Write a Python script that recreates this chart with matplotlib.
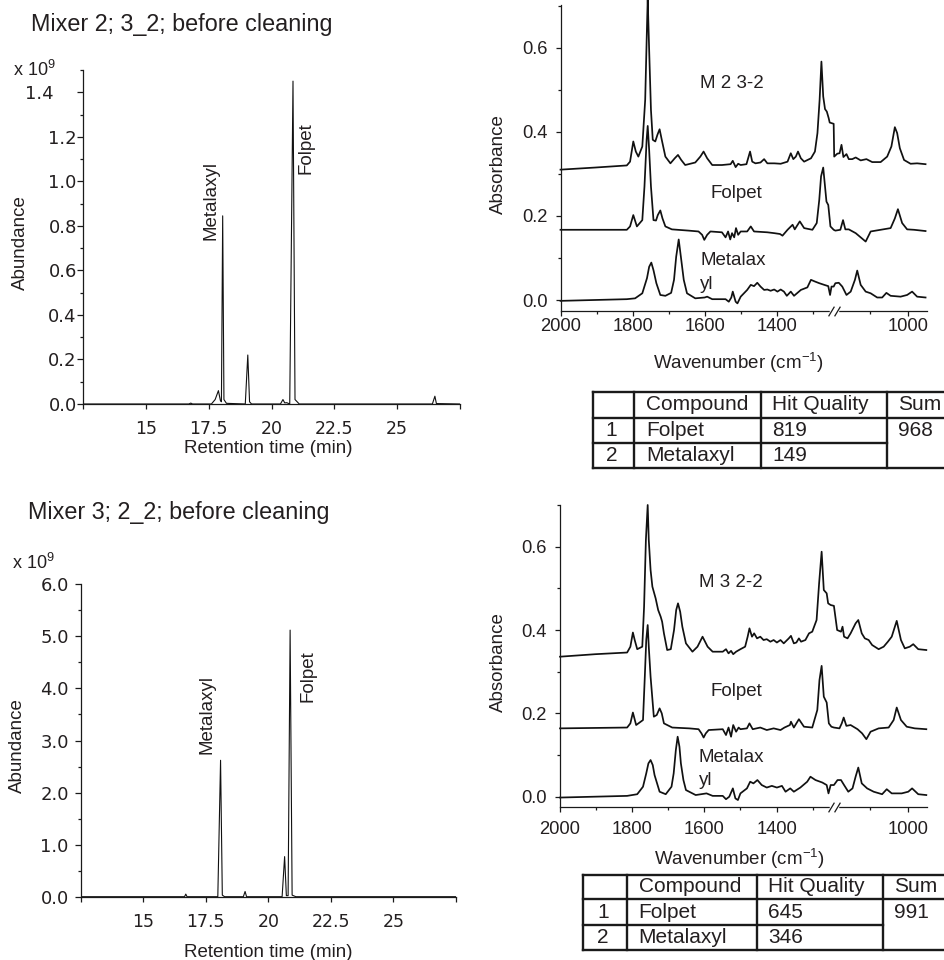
import numpy as np
import matplotlib
matplotlib.use("Agg")
import matplotlib.pyplot as plt
import matplotlib.transforms as mtransforms
from matplotlib.ticker import FixedLocator, MultipleLocator, FuncFormatter
from matplotlib.lines import Line2D

plt.rcParams['font.family'] = ['Liberation Sans', 'DejaVu Sans']
plt.rcParams['mathtext.fontset'] = 'custom'
plt.rcParams['mathtext.rm'] = 'Liberation Sans'
plt.rcParams['mathtext.it'] = 'Liberation Sans:italic'
plt.rcParams['mathtext.bf'] = 'Liberation Sans:bold'

TXT = '#231f20'

# ---------------- data: GC chromatograms (abundance in 10^9) ----------------
gc1_time = [12.5, 16.7, 16.78, 16.85, 17.6, 17.75, 17.88, 17.96, 18.0, 18.05, 18.1, 18.2,
            18.95, 19.05, 19.12, 19.2, 20.35, 20.45, 20.52, 20.6, 20.72, 20.85, 20.93, 21.1,
            26.4, 26.5, 26.56, 27.5]
gc1_abund = [0.0, 0.0, 0.004, 0.0, 0.0, 0.02, 0.06, 0.015, 0.01, 0.845, 0.02, 0.003,
             0.0, 0.22, 0.01, 0.0, 0.0, 0.02, 0.005, 0.006, 0.0, 1.45, 0.02, 0.0,
             0.0, 0.035, 0.002, 0.0]

gc2_time = [12.5, 16.65, 16.7, 16.75, 17.98, 18.09, 18.16, 18.25, 19.0, 19.07, 19.13,
            20.55, 20.65, 20.72, 20.79, 20.87, 20.95, 21.1, 27.5]
gc2_abund = [0.0, 0.0, 0.05, 0.0, 0.0, 2.62, 0.03, 0.0, 0.0, 0.1, 0.0,
             0.0, 0.77, 0.02, 0.02, 5.12, 0.03, 0.0, 0.0]

gc1_title = "Mixer 2; 3_2; before cleaning"
gc2_title = "Mixer 3; 2_2; before cleaning"

# ---------------- data: IR spectra (wavenumber, absorbance) ----------------
ir1_sample = [(2000, .310), (1904, .315), (1816, .320), (1807, .329), (1798, .377), (1791, .353),
              (1784, .341), (1773, .365), (1765, .476), (1760, .651), (1758, .715), (1754, .595),
              (1749, .452), (1744, .381), (1737, .377), (1731, .393), (1725, .406), (1719, .381),
              (1709, .341), (1695, .325), (1683, .337), (1674, .345), (1665, .333), (1654, .321),
              (1626, .327), (1612, .341), (1603, .353), (1593, .337), (1579, .321), (1552, .321),
              (1528, .323), (1522, .331), (1514, .316), (1507, .324), (1500, .321), (1484, .323),
              (1474, .353), (1468, .329), (1459, .325), (1445, .327), (1435, .335), (1426, .325),
              (1407, .325), (1389, .324), (1370, .329), (1361, .349), (1354, .335), (1347, .341),
              (1341, .353), (1333, .337), (1324, .329), (1305, .337), (1294, .353), (1287, .397),
              (1281, .476), (1276, .567), (1271, .484), (1266, .454), (1261, .448), (1256, .433),
              (1253, .422), (1242, .419), (1194, .341), (1185, .348), (1179, .349), (1174, .369),
              (1169, .340), (1161, .347), (1155, .335), (1146, .335), (1137, .339), (1124, .332),
              (1109, .335), (1094, .328), (1072, .328), (1055, .341), (1044, .365), (1035, .411),
              (1029, .397), (1022, .361), (1011, .333), (994, .324), (977, .325), (955, .323)]
ir1_folpet = [(2000, .167), (1816, .167), (1807, .175), (1798, .202), (1788, .175), (1773, .190),
              (1767, .270), (1761, .381), (1758, .414), (1754, .357), (1749, .270), (1742, .190),
              (1735, .189), (1730, .202), (1723, .213), (1717, .194), (1709, .175), (1691, .168),
              (1644, .165), (1617, .163), (1607, .155), (1601, .143), (1593, .155), (1584, .163),
              (1552, .161), (1542, .149), (1535, .163), (1529, .144), (1524, .159), (1518, .149),
              (1513, .171), (1507, .155), (1500, .163), (1482, .163), (1472, .175), (1463, .163),
              (1426, .161), (1407, .159), (1391, .157), (1384, .153), (1370, .167), (1356, .179),
              (1350, .168), (1336, .187), (1324, .171), (1301, .167), (1289, .183), (1282, .238),
              (1277, .294), (1271, .315), (1266, .270), (1262, .234), (1257, .226), (1251, .175),
              (1242, .167), (1190, .165), (1177, .167), (1170, .190), (1164, .168), (1155, .168),
              (1137, .159), (1124, .149), (1111, .139), (1098, .163), (1072, .167), (1046, .171),
              (1035, .194), (1027, .216), (1016, .183), (1003, .168), (985, .167), (955, .164)]
ir1_metalaxyl = [(2000, -.002), (1816, .002), (1793, .004), (1773, .016), (1760, .052), (1754, .079),
                 (1748, .089), (1742, .071), (1734, .040), (1723, .012), (1709, .010), (1693, .017),
                 (1685, .048), (1679, .103), (1672, .144), (1666, .103), (1658, .048), (1649, .016),
                 (1626, .004), (1600, .006), (1593, .008), (1579, .002), (1542, .002), (1533, -.004),
                 (1526, .006), (1522, .020), (1514, -.004), (1509, -.008), (1500, .008), (1482, .024),
                 (1472, .036), (1463, .033), (1454, .041), (1445, .032), (1435, .024), (1426, .025),
                 (1417, .022), (1407, .025), (1398, .020), (1389, .025), (1380, .020), (1372, .010),
                 (1361, .020), (1352, .010), (1333, .024), (1315, .030), (1305, .048), (1294, .044),
                 (1282, .040), (1268, .036), (1257, .033), (1252, .012), (1248, .032), (1242, .032),
                 (1190, .040), (1181, .041), (1172, .032), (1161, .012), (1150, .020), (1139, .048),
                 (1133, .070), (1124, .036), (1111, .020), (1098, .016), (1081, .006), (1068, .006),
                 (1057, .017), (1046, .010), (1020, .008), (1003, .012), (990, .020), (977, .008),
                 (955, .006)]

ir2_sample = [(2000, .336), (1902, .342), (1814, .346), (1805, .360), (1798, .394), (1793, .376),
              (1786, .354), (1772, .360), (1767, .456), (1762, .616), (1757, .700), (1754, .616),
              (1749, .544), (1744, .504), (1735, .476), (1728, .448), (1721, .432), (1717, .420),
              (1712, .392), (1703, .352), (1693, .354), (1684, .400), (1678, .448), (1673, .464),
              (1667, .444), (1661, .408), (1651, .368), (1633, .348), (1619, .360), (1605, .384),
              (1591, .360), (1577, .348), (1549, .348), (1540, .354), (1533, .344), (1526, .350),
              (1520, .342), (1512, .348), (1500, .354), (1487, .360), (1480, .384), (1475, .404),
              (1468, .384), (1462, .392), (1454, .380), (1445, .384), (1436, .376), (1427, .378),
              (1417, .372), (1408, .376), (1399, .370), (1389, .376), (1380, .368), (1366, .380),
              (1360, .386), (1352, .368), (1345, .370), (1338, .380), (1332, .372), (1320, .376),
              (1310, .392), (1301, .396), (1289, .424), (1282, .512), (1275, .588), (1269, .496),
              (1261, .488), (1257, .464), (1250, .460), (1239, .458), (1185, .400), (1175, .396),
              (1171, .408), (1167, .384), (1158, .380), (1150, .392), (1137, .416), (1130, .424),
              (1121, .392), (1113, .380), (1103, .376), (1094, .364), (1077, .354), (1064, .360),
              (1053, .372), (1043, .384), (1030, .422), (1019, .376), (1009, .356), (996, .360),
              (987, .366), (974, .354), (953, .352)]
ir2_folpet = [(2000, .164), (1814, .166), (1805, .176), (1798, .202), (1789, .172), (1770, .184),
              (1765, .288), (1761, .376), (1757, .412), (1754, .360), (1749, .288), (1740, .192),
              (1732, .196), (1724, .212), (1718, .200), (1712, .176), (1689, .166), (1642, .164),
              (1616, .162), (1608, .152), (1602, .142), (1596, .152), (1588, .160), (1549, .162),
              (1540, .148), (1533, .166), (1526, .144), (1520, .172), (1512, .156), (1505, .166),
              (1500, .162), (1482, .164), (1475, .176), (1466, .162), (1445, .166), (1427, .160),
              (1408, .164), (1389, .160), (1378, .166), (1363, .172), (1360, .180), (1352, .166),
              (1338, .186), (1324, .168), (1301, .166), (1287, .208), (1281, .280), (1275, .314),
              (1269, .240), (1261, .226), (1255, .176), (1248, .168), (1241, .166), (1179, .164),
              (1173, .176), (1168, .190), (1161, .170), (1150, .172), (1132, .162), (1120, .152),
              (1109, .138), (1098, .156), (1077, .164), (1051, .166), (1038, .184), (1030, .214),
              (1019, .184), (1004, .168), (983, .164), (953, .162)]
ir2_metalaxyl = [(2000, -.002), (1814, .002), (1786, .006), (1770, .024), (1761, .056), (1755, .080),
                 (1749, .088), (1743, .076), (1738, .052), (1724, .012), (1707, .006), (1691, .024),
                 (1685, .056), (1679, .112), (1674, .144), (1669, .120), (1665, .080), (1658, .040),
                 (1651, .016), (1624, .004), (1594, .008), (1577, .002), (1549, .002), (1540, -.006),
                 (1531, .000), (1521, .020), (1514, -.004), (1507, -.008), (1500, .008), (1482, .020),
                 (1473, .036), (1464, .032), (1453, .040), (1441, .028), (1427, .022), (1413, .026),
                 (1399, .022), (1385, .026), (1375, .012), (1362, .020), (1352, .012), (1334, .022),
                 (1315, .036), (1306, .048), (1292, .040), (1273, .034), (1261, .028), (1256, .008),
                 (1250, .028), (1241, .028), (1184, .040), (1175, .040), (1167, .028), (1156, .012),
                 (1145, .020), (1137, .048), (1130, .070), (1121, .032), (1107, .020), (1090, .012),
                 (1068, .006), (1056, .018), (1043, .008), (1017, .008), (1000, .012), (990, .020),
                 (974, .006), (953, .004)]

ir1_names = ["M 2 3-2", "Folpet", "Metalax", "yl"]
ir2_names = ["M 3 2-2", "Folpet", "Metalax", "yl"]

# ---------------- data: library search tables ----------------
tab_header = ["", "Compound", "Hit Quality", "Sum"]
tab_rows = ["1", "2"]
tab_compounds = ["Folpet", "Metalaxyl"]
tab1_hits = [819, 149]
tab1_sum = 968
tab2_hits = [645, 346]
tab2_sum = 991

# ---------------- layout helpers ----------------
W, H = 944.0, 960.0
PX = 72.0 / 100.0  # points per pixel
fig = plt.figure(figsize=(W / 100, H / 100), dpi=100)


def fx(px):
    return px / W


def fy(py):
    return 1.0 - py / H


def rect(l, t, r, b):
    return [fx(l), fy(b), (r - l) / W, (b - t) / H]


def style_axes(ax):
    for s in ('top', 'right'):
        ax.spines[s].set_visible(False)
    for s in ('left', 'bottom'):
        ax.spines[s].set_linewidth(0.9)
        ax.spines[s].set_color('#1a1a1a')
    ax.tick_params(which='both', direction='out', width=0.9, color='#1a1a1a',
                   labelcolor=TXT, labelsize=13.2)
    ax.tick_params(which='major', length=5 * PX)
    ax.tick_params(which='minor', length=3 * PX)


# ---------------- chromatograms ----------------
def chromatogram(r, t, a, ytop, ymaj, ymin, fmt, ypad, xpad, labels):
    ax = fig.add_axes(r)
    ax.plot(t, a, color='#111111', lw=0.8)
    ax.set_xlim(12.5, 27.5)
    ax.set_ylim(0, ytop)
    style_axes(ax)
    ax.xaxis.set_major_locator(FixedLocator([12.5, 15, 17.5, 20, 22.5, 25, 27.5]))
    ax.xaxis.set_major_formatter(FuncFormatter(
        lambda v, p: '' if v in (12.5, 27.5) else f'{v:g}'))
    ax.yaxis.set_major_locator(MultipleLocator(ymaj))
    ax.yaxis.set_minor_locator(MultipleLocator(ymin))
    ax.yaxis.set_major_formatter(FuncFormatter(fmt))
    ax.tick_params(axis='x', labelsize=12.5)
    ax.tick_params(axis='y', labelsize=13)
    ax.tick_params(axis='y', which='major', length=6 * PX, pad=ypad * PX)
    ax.tick_params(axis='y', which='minor', length=3.3 * PX)
    ax.tick_params(axis='x', which='major', length=4.5 * PX, pad=xpad * PX)
    for lab in ax.get_xticklabels() + ax.get_yticklabels():
        lab.set_fontfamily('DejaVu Sans')
    for (txt, tx, ty) in labels:
        ax.text(tx, ty, txt, rotation=90, ha='center', va='center',
                fontsize=13.5, color=TXT)
    return ax


def fmt_top(v, p):
    s = f'{v:.1f}'
    return s + '    ' if s == '1.4' else s


ax1 = chromatogram(rect(83.3, 70, 460, 404), gc1_time, gc1_abund, 1.5, 0.2, 0.1,
                   fmt_top, 0.5, 12.0,
                   [("Metalaxyl", 17.6, 0.915), ("Folpet", 21.36, 1.15)])
ax2 = chromatogram(rect(80.7, 584.3, 456, 896.7), gc2_time, gc2_abund, 6.0, 1.0, 0.5,
                   lambda v, p: f'{v:.1f}', 6.0, 11.5,
                   [("Metalaxyl", 17.54, 3.50), ("Folpet", 21.59, 4.24)])

fig.text(fx(31), fy(25), gc1_title, fontsize=16.8, color=TXT, ha='left', va='center')
fig.text(fx(28), fy(513), gc2_title, fontsize=16.8, color=TXT, ha='left', va='center')
fig.text(fx(13), fy(70), r'x 10$^{9}$', fontsize=13, color=TXT, ha='left', va='center')
fig.text(fx(12), fy(563), r'x 10$^{9}$', fontsize=13, color=TXT, ha='left', va='center')
fig.text(fx(20), fy(242.5), 'Abundance', rotation=90, fontsize=13.5, color=TXT,
         ha='center', va='center')
fig.text(fx(17.5), fy(745.8), 'Abundance', rotation=90, fontsize=13.5, color=TXT,
         ha='center', va='center')
fig.text(fx(268.3), fy(453), 'Retention time (min)', fontsize=13.5, color=TXT,
         ha='center', va='baseline')
fig.text(fx(268), fy(957), 'Retention time (min)', fontsize=13.5, color=TXT,
         ha='center', va='baseline')

# ---------------- IR spectra with broken wavenumber axis ----------------
B_HI, B_LO, GAP_SLOPE, R_SCALE = 1241.0, 1193.0, 0.01, 1.065
B_MID = B_HI - (B_HI - B_LO) * GAP_SLOPE


def fwd(w):
    w = np.asarray(w, dtype=float)
    return np.where(w >= B_HI, w,
                    np.where(w >= B_LO, B_HI - (B_HI - w) * GAP_SLOPE,
                             B_MID - (B_LO - w) * R_SCALE))


def inv(v):
    v = np.asarray(v, dtype=float)
    return np.where(v >= B_HI, v,
                    np.where(v >= B_MID, B_HI - (B_HI - v) / GAP_SLOPE,
                             B_LO - (B_MID - v) / R_SCALE))


def ir_panel(r, ytop, spectra, names, name_pos, ypad, xpad):
    ax = fig.add_axes(r)
    ax.set_xscale('function', functions=(fwd, inv))
    for sp in spectra:
        wn, ab = zip(*sp)
        ax.plot(wn, ab, color='#111111', lw=1.25, clip_on=False, solid_joinstyle='round')
    ax.set_xlim(2000, 952)
    ax.set_ylim(-0.0254, ytop)
    style_axes(ax)
    ax.xaxis.set_major_locator(FixedLocator([2000, 1800, 1600, 1400, 1000]))
    ax.xaxis.set_minor_locator(FixedLocator([1900, 1700, 1500, 1300, 1100]))
    ax.xaxis.set_major_formatter(FuncFormatter(lambda v, p: f'{v:.0f}'))
    ax.yaxis.set_major_locator(FixedLocator([0.0, 0.2, 0.4, 0.6]))
    ax.yaxis.set_minor_locator(FixedLocator([0.1, 0.3, 0.5, 0.7]))
    ax.yaxis.set_major_formatter(FuncFormatter(lambda v, p: f'{v:.1f}'))
    ax.tick_params(axis='y', which='major', pad=ypad * PX)
    ax.tick_params(axis='x', which='major', pad=xpad * PX)
    # axis break marks
    bt = mtransforms.blended_transform_factory(ax.transData, ax.transAxes)
    ax.plot([1250, 1185], [0, 0], transform=bt, color='white', lw=2.5,
            clip_on=False, zorder=5)
    ax.plot([1250, 1185], [0, 0], transform=bt, linestyle='none',
            marker=[(-0.6, -1.0), (0.6, 1.0)], markersize=7, markeredgewidth=0.9,
            markeredgecolor='#1a1a1a', clip_on=False, zorder=6)
    for txt, (px, py) in zip(names, name_pos):
        fig.text(fx(px), fy(py), txt, fontsize=13.5, color=TXT, ha='left', va='baseline')
    return ax


ir1 = ir_panel(rect(560.5, 5, 926.7, 310.7), 0.7015,
               [ir1_sample, ir1_folpet, ir1_metalaxyl], ir1_names,
               [(700, 88.3), (710.7, 198.3), (700, 265), (700, 289.3)], 8.2, 2.4)
ir2 = ir_panel(rect(560, 505, 926.7, 807.3), 0.700,
               [ir2_sample, ir2_folpet, ir2_metalaxyl], ir2_names,
               [(699.3, 586.7), (710, 696), (699, 761.7), (699, 785)], 8.2, 9.2)

fig.text(fx(498.3), fy(164), 'Absorbance', rotation=90, fontsize=13.5, color=TXT,
         ha='center', va='center')
fig.text(fx(498.3), fy(661.7), 'Absorbance', rotation=90, fontsize=13.5, color=TXT,
         ha='center', va='center')
fig.text(fx(738), fy(363.3), r'Wavenumber (cm$^{-1}$)', fontsize=13.5, color=TXT,
         ha='center', va='center')
fig.text(fx(739), fy(859.3), r'Wavenumber (cm$^{-1}$)', fontsize=13.5, color=TXT,
         ha='center', va='center')


# ---------------- tables ----------------
def table(cols, rows, hits, total):
    x0, x1, x2, x3 = cols
    y0, y1, y2, y3 = rows
    xe = W + 5
    lw = 1.7

    def hline(xa, xb, y):
        fig.add_artist(Line2D([fx(xa), fx(xb)], [fy(y), fy(y)], transform=fig.transFigure,
                              color='#1a1a1a', lw=lw, solid_capstyle='projecting'))

    def vline(x, ya, yb):
        fig.add_artist(Line2D([fx(x), fx(x)], [fy(ya), fy(yb)], transform=fig.transFigure,
                              color='#1a1a1a', lw=lw, solid_capstyle='projecting'))

    hline(x0, xe, y0)
    hline(x0, xe, y1)
    hline(x0, x3, y2)
    hline(x0, xe, y3)
    for x in (x0, x1, x2, x3):
        vline(x, y0, y3)
    fs = 15
    yc = [(y0 + y1) / 2, (y1 + y2) / 2, (y2 + y3) / 2]
    fig.text(fx(x1 + 12), fy(yc[0]), tab_header[1], fontsize=fs, color=TXT, va='center')
    fig.text(fx(x2 + 11.5), fy(yc[0]), tab_header[2], fontsize=fs, color=TXT, va='center')
    fig.text(fx(x3 + 11.5), fy(yc[0]), tab_header[3], fontsize=fs, color=TXT, va='center')
    for i in range(2):
        fig.text(fx((x0 + x1) / 2 - 2), fy(yc[i + 1]), tab_rows[i], fontsize=fs, color=TXT,
                 ha='center', va='center')
        fig.text(fx(x1 + 12), fy(yc[i + 1]), tab_compounds[i], fontsize=fs, color=TXT,
                 va='center')
        fig.text(fx(x2 + 11.5), fy(yc[i + 1]), str(hits[i]), fontsize=fs, color=TXT,
                 va='center')
    fig.text(fx(x3 + 11.5), fy(yc[1]), str(total), fontsize=fs, color=TXT, va='center')


table((593.3, 634, 761, 886.7), (392.3, 417.7, 443.3, 468.3), tab1_hits, tab1_sum)
table((582.7, 626.7, 756.7, 882.7), (874.7, 899.3, 925, 950), tab2_hits, tab2_sum)

fig.savefig('out.png', dpi=100)
